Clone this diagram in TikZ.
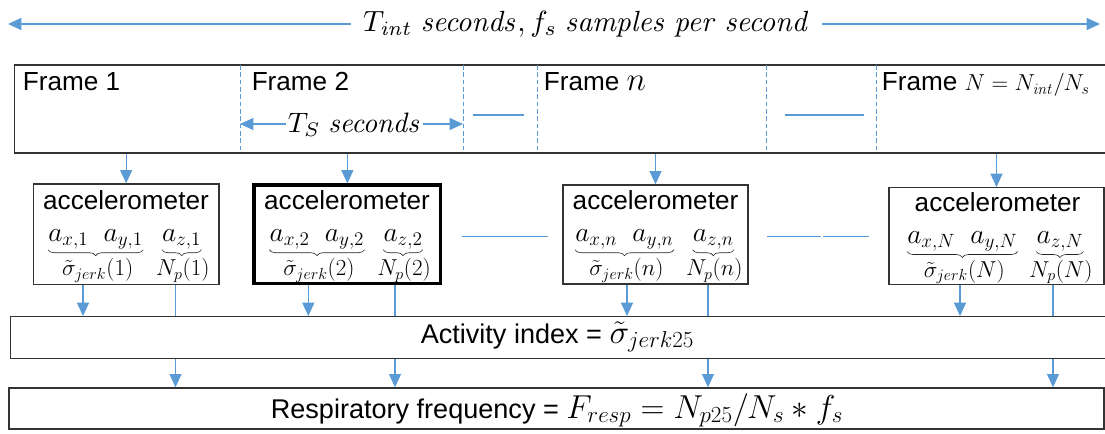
\documentclass[tikz,border=0pt]{standalone}
\usepackage{amsmath}
\usepackage[no-math]{fontspec}
\setmainfont{Liberation Sans}
\usetikzlibrary{arrows.meta,fit,calc,positioning,decorations.pathreplacing}
\definecolor{lblue}{HTML}{5B9BD5}
\definecolor{bord}{HTML}{333333}
\newcommand{\lmath}[1]{\mbox{\fontsize{23.5}{26}\selectfont$#1$}}
\newcommand{\bmath}[1]{\mbox{\fontsize{25}{28}\selectfont$#1$}}
\newcommand{\accrow}[4]{%
  \node[mlab, anchor=base west] (ax#1) at (#2,#3) {$a_{x,#4}$};
  \node[mlab, base right=11pt of ax#1] (ay#1) {$a_{y,#4}$};
  \node[mlab, base right=14pt of ay#1] (az#1) {$a_{z,#4}$};
  \draw[brc] ($(ax#1.base west)+(0,8)$) -- ($(ay#1.base east)+(0,8)$);
  \draw[brc] ($(az#1.base west)+(0,8)$) -- ($(az#1.base east)+(0,8)$);
  \node[blabel] (sg#1) at ($(ax#1.base west)!0.5!(ay#1.base east)+(2,34)$) {$\tilde{\sigma}_{jerk}(#4)$};
  \node[blabel] (np#1) at ($(az#1.base west)!0.5!(az#1.base east)+(1,34)$) {$N_p(#4)$};
}
\begin{document}
\begin{tikzpicture}[x=0.75pt,y=-0.75pt,
  conn/.style={draw=lblue, line width=0.8pt},
  arr/.style={conn, -{Triangle[width=9pt,length=10pt]}},
  divider/.style={draw=lblue, line width=0.7pt, dash pattern=on 3.5pt off 2pt},
  box/.style={draw=bord, line width=1pt, inner sep=0pt},
  lab/.style={font=\fontsize{19.6}{22}\selectfont, inner sep=0pt},
  blab/.style={font=\fontsize{20.3}{23}\selectfont, inner sep=0pt},
  mlab/.style={font=\fontsize{20}{22}\selectfont, inner sep=0pt, anchor=base},
  blabel/.style={font=\fontsize{18}{20}\selectfont, inner sep=0pt, anchor=base},
  brc/.style={draw=black!85, line width=0.45pt, decorate,
    decoration={brace, mirror, amplitude=4.5pt, aspect=0.5}},
  ]
\useasboundingbox (0,0) rectangle (1105,433);
% ---- top span arrow
\node[inner xsep=9pt, inner ysep=0pt] (title) at (586.5,24)
  {\resizebox{335pt}{!}{$T_{\mathit{int}}\ \mathit{seconds}, f_s\ \mathit{samples\ per\ second}$}};
\coordinate (tl) at (8,24);
\coordinate (tr) at (1100,24);
\draw[arr] (title) -- (tl);
\draw[arr] (title) -- (tr);
% ---- frame box
\node[box, fit={(14.3,65) (1108,153)}] (frame) {};
\draw[divider] (240,65) -- (240,153);
\draw[divider] (463,65) -- (463,153);
\draw[divider] (537.5,65) -- (537.5,153);
\draw[divider] (766,65) -- (766,153);
\draw[divider] (876,65) -- (876,153);
\node[lab, anchor=base west] (f1) at (22.7,90.7) {Frame 1};
\node[lab, anchor=base west] (f2) at (251.5,90.7) {Frame 2};
\node[lab, anchor=base west] (fn) at (543.6,90.7) {Frame \lmath{n}};
\node[lab, anchor=base west] (fN) at (881.6,90.7) {Frame \mbox{\fontsize{18.3}{21}\selectfont$N=N_{\mathit{int}}/N_s$}};
\draw[conn] (473,115) -- (524,115);
\draw[conn] (785,115) -- (863.6,115);
% Ts arrow
\coordinate (d1) at (240,124);
\coordinate (d2) at (463,124);
\node[inner xsep=1.5pt, inner ysep=0pt] (ts) at (354.5,125)
  {\resizebox{100pt}{!}{$T_S\ \mathit{seconds}$}};
\draw[arr] (ts.west |- d1) -- (d1);
\draw[arr] (ts.east |- d2) -- (d2);
% ---- accelerometer boxes
\node[box, fit={(33.3,184) (219,284.3)}] (acc1) {};
\node[box, line width=2.3pt, draw=black, fit={(254,185) (440.7,283.3)}] (acc2) {};
\node[box, fit={(563,185) (748,284)}] (accn) {};
\node[box, fit={(889,187.7) (1104,284.3)}] (accN) {};
\node[lab, anchor=base] (t1) at (126,209) {accelerometer};
\node[lab, anchor=base] (t2) at (347,209) {accelerometer};
\node[lab, anchor=base] (tn) at (655.5,209) {accelerometer};
\node[lab, anchor=base] (tN) at (997.5,211) {accelerometer};
\accrow{1}{48}{241.7}{1}
\accrow{2}{269.3}{241.7}{2}
\accrow{n}{575}{241.7}{n}
\accrow{N}{907}{243.5}{N}
% links between accelerometer boxes
\draw[conn] (461.7,236.7) -- (548.4,236.7);
\draw[conn] (766.5,236.7) -- (821,236.7);
\draw[conn] (823,236.7) -- (869,236.7);
% ---- activity and respiratory boxes
\node[box, fit={(10.7,316.7) (1108,358.7)}] (act) {};
\node[box, fit={(9,388) (1104,429)}] (resp) {};
\node[blab, anchor=base] (actt) at (557.5,343) {Activity index = \bmath{\tilde{\sigma}_{jerk25}}};
\node[blab, anchor=base] (respt) at (557,418) {Respiratory frequency = \bmath{F_{resp}=N_{p25}/N_s*f_s}};
% ---- frame -> accelerometer arrows
\draw[arr] (acc1.north |- frame.south) -- (acc1.north);
\draw[arr] (acc2.north |- frame.south) -- (acc2.north);
\draw[arr] (accn.north |- frame.south) -- (accn.north);
\draw[arr] (accN.north |- frame.south) -- (accN.north);
% ---- accelerometer -> activity
\coordinate (s1) at (83,0);
\coordinate (s2) at (308.3,0);
\coordinate (sn) at (627,0);
\coordinate (sN) at (960,0);
\coordinate (p1) at (175.5,0);
\coordinate (p2) at (395,0);
\coordinate (pn) at (708,0);
\coordinate (pN) at (1053,0);
\draw[arr] (s1 |- acc1.south) -- (s1 |- act.north);
\draw[arr] (s2 |- acc2.south) -- (s2 |- act.north);
\draw[arr] (sn |- accn.south) -- (sn |- act.north);
\draw[arr] (sN |- accN.south) -- (sN |- act.north);
\draw[conn] (p1 |- acc1.south) -- (p1 |- act.north);
\draw[conn] (p2 |- acc2.south) -- (p2 |- act.north);
\draw[conn] (pn |- accn.south) -- (pn |- act.north);
\draw[conn] (pN |- accN.south) -- (pN |- act.north);
% ---- activity -> respiratory
\draw[arr] (p1 |- act.south) -- (p1 |- resp.north);
\draw[arr] (p2 |- act.south) -- (p2 |- resp.north);
\draw[arr] (pn |- act.south) -- (pn |- resp.north);
\draw[arr] (pN |- act.south) -- (pN |- resp.north);
\end{tikzpicture}
\end{document}
